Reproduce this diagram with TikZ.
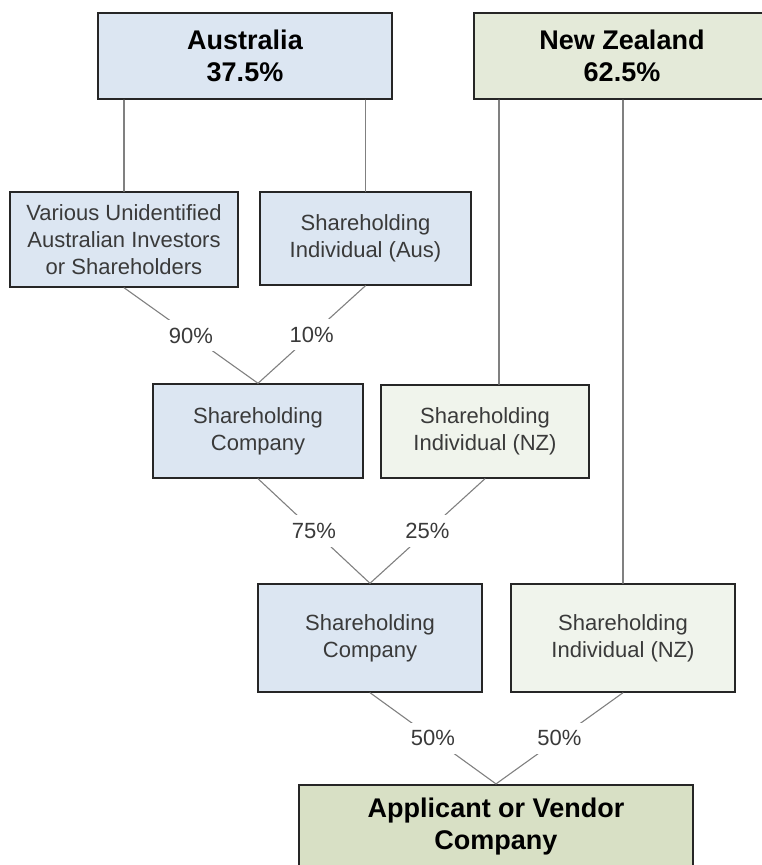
\documentclass[tikz,border=0pt]{standalone}
\usepackage{fontspec}
\setmainfont{Liberation Sans}
\usepackage{tikz}
\usepackage{xcolor}
\definecolor{ausfill}{HTML}{DCE6F2}
\definecolor{nzfill}{HTML}{E4EAD9}
\definecolor{nzlight}{HTML}{F0F4EC}
\definecolor{appfill}{HTML}{D8E0C5}
\definecolor{bodytext}{HTML}{3A3A3A}
\definecolor{linkgray}{HTML}{808080}

\begin{document}
\begin{tikzpicture}[x=1pt,y=-1pt,line cap=round,
  title/.style={draw=black!85,line width=2.2pt,align=center,inner sep=0pt,
    font=\fontsize{27}{32}\selectfont\bfseries,text=black},
  holder/.style={draw=black!85,line width=1.4pt,align=center,inner sep=0pt,
    font=\fontsize{22}{27}\selectfont,text=bodytext},
  link/.style={draw=linkgray,line width=1.1pt},
  share/.style={fill=white,inner xsep=3pt,inner ysep=8pt,font=\fontsize{22}{27}\selectfont,text=bodytext}]
\useasboundingbox (0,0) rectangle (762,865);
\node[title,fill=ausfill,minimum width=294pt,minimum height=86pt] (aus) at (245,56) {Australia\\37.5\%};
\node[title,fill=nzfill,minimum width=296pt,minimum height=86pt] (nz) at (622,56) {New Zealand\\62.5\%};
\node[holder,fill=ausfill,minimum width=228pt,minimum height=95pt] (various) at (124,239.5) {Various Unidentified\\Australian Investors\\or Shareholders};
\node[holder,fill=ausfill,minimum width=211pt,minimum height=93pt] (indaus) at (365.5,238.5) {Shareholding\\Individual (Aus)};
\node[holder,fill=ausfill,minimum width=210pt,minimum height=94pt] (shcoA) at (258,431) {Shareholding\\Company};
\node[holder,fill=nzlight,minimum width=208pt,minimum height=93pt] (indnzA) at (485,431.5) {Shareholding\\Individual (NZ)};
\node[holder,fill=ausfill,minimum width=224pt,minimum height=108pt] (shcoB) at (370,638) {Shareholding\\Company};
\node[holder,fill=nzlight,minimum width=224pt,minimum height=108pt] (indnzB) at (623,638) {Shareholding\\Individual (NZ)};
\node[title,fill=appfill,minimum width=394pt,minimum height=84pt] (app) at (496,827) {Applicant or Vendor\\Company};
\draw[link] (various.north) -- (various.north |- aus.south);
\draw[link] (indaus.north) -- (indaus.north |- aus.south);
\draw[link] ([xshift=14pt]indnzA.north) -- ([xshift=14pt]indnzA.north |- nz.south);
\draw[link] (indnzB.north) -- (indnzB.north |- nz.south);
\draw[link] (various.south) -- node[share] {90\%} (shcoA.north);
\draw[link] (indaus.south) -- node[share] {10\%} (shcoA.north);
\draw[link] (shcoA.south) -- node[share] {75\%} (shcoB.north);
\draw[link] (indnzA.south) -- node[share] {25\%} (shcoB.north);
\draw[link] (shcoB.south) -- node[share] {50\%} (app.north);
\draw[link] (indnzB.south) -- node[share] {50\%} (app.north);
\end{tikzpicture}
\end{document}
